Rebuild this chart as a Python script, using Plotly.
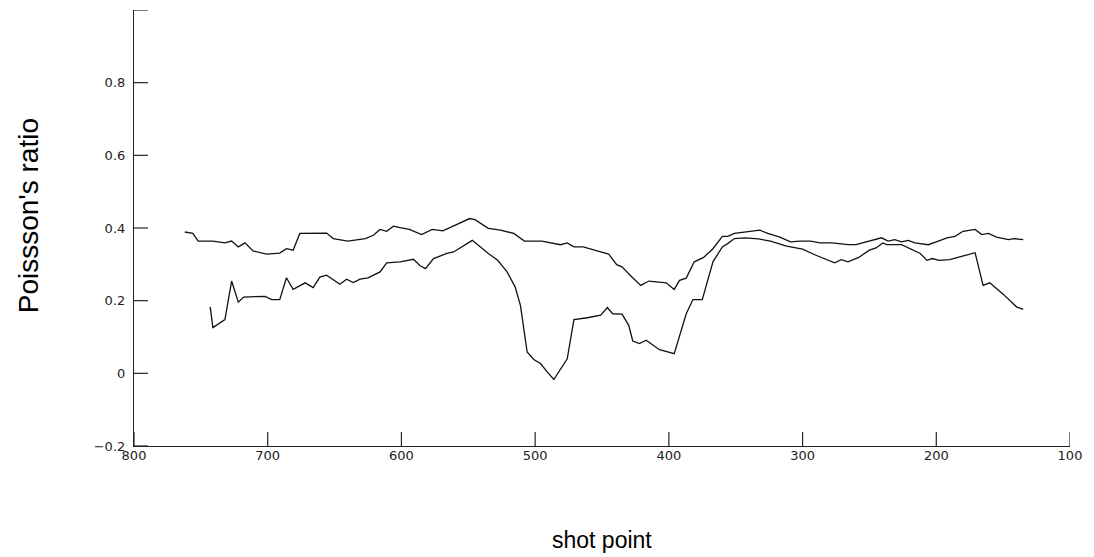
import plotly.graph_objects as go

# Upper curve (shot point, Poisson's ratio)
upper_x = [762, 756, 752, 741, 732, 727, 722, 717, 711, 701, 691, 686, 681, 676,
           656, 651, 640, 627, 621, 616, 611, 606, 601, 594, 585, 577, 569, 558,
           549, 545, 535, 526, 516, 508, 495, 481, 476, 471, 464, 451, 445, 439,
           435, 429, 421, 415, 402, 396, 392, 387, 381, 374, 367, 360, 356, 351,
           341, 332, 326, 317, 309, 302, 294, 287, 278, 266, 260, 252, 241, 236,
           231, 226, 221, 216, 206, 200, 192, 186, 180, 171, 166, 161, 155, 146,
           142, 135]
upper_y = [0.389, 0.385, 0.364, 0.364, 0.359, 0.364, 0.348, 0.359, 0.337, 0.328,
           0.331, 0.343, 0.339, 0.385, 0.386, 0.371, 0.364, 0.371, 0.380, 0.396,
           0.391, 0.405, 0.401, 0.396, 0.382, 0.396, 0.392, 0.410, 0.426, 0.423,
           0.399, 0.394, 0.385, 0.364, 0.364, 0.354, 0.359, 0.348, 0.348, 0.334,
           0.328, 0.299, 0.293, 0.270, 0.242, 0.254, 0.249, 0.231, 0.256, 0.262,
           0.307, 0.319, 0.343, 0.377, 0.377, 0.385, 0.389, 0.394, 0.385, 0.375,
           0.362, 0.364, 0.364, 0.359, 0.359, 0.354, 0.354, 0.362, 0.373, 0.364,
           0.368, 0.362, 0.366, 0.359, 0.354, 0.362, 0.373, 0.377, 0.391, 0.396,
           0.382, 0.385, 0.375, 0.368, 0.371, 0.368]

# Lower curve
lower_x = [743, 741, 732, 727, 722, 718, 702, 697, 691, 686, 681, 672, 666, 661,
           656, 646, 641, 636, 631, 625, 616, 611, 601, 591, 586, 582, 576, 566,
           561, 555, 547, 535, 528, 521, 515, 511, 506, 501, 496, 491, 486, 476,
           471, 461, 451, 446, 442, 435, 430, 427, 422, 417, 407, 396, 387, 382,
           375, 372, 367, 360, 356, 351, 343, 333, 324, 312, 300, 290, 276, 271,
           266, 258, 250, 245, 240, 237, 226, 212, 207, 203, 198, 190, 171, 165,
           160, 150, 140, 135]
lower_y = [0.183, 0.126, 0.148, 0.254, 0.196, 0.210, 0.212, 0.203, 0.203, 0.263,
           0.231, 0.249, 0.236, 0.265, 0.270, 0.245, 0.259, 0.250, 0.259, 0.263,
           0.279, 0.304, 0.307, 0.314, 0.296, 0.288, 0.316, 0.330, 0.334, 0.348,
           0.366, 0.330, 0.311, 0.279, 0.238, 0.187, 0.059, 0.038, 0.027, 0.004,
           -0.017, 0.040, 0.148, 0.153, 0.160, 0.181, 0.164, 0.163, 0.132, 0.089,
           0.082, 0.091, 0.065, 0.054, 0.164, 0.203, 0.203, 0.242, 0.307, 0.348,
           0.357, 0.371, 0.373, 0.370, 0.364, 0.350, 0.342, 0.325, 0.304, 0.313,
           0.307, 0.319, 0.339, 0.345, 0.359, 0.354, 0.354, 0.330, 0.311, 0.316,
           0.311, 0.313, 0.332, 0.242, 0.249, 0.218, 0.183, 0.176]

x_ticks = [800, 700, 600, 500, 400, 300, 200, 100]
y_ticks = [-0.2, 0, 0.2, 0.4, 0.6, 0.8, 1.0]
y_ticktext = ["\u22120.2", "0", "0.2", "0.4", "0.6", "0.8", ""]

X_MIN, X_MAX = 800, 100
Y_MIN, Y_MAX = -0.2, 1.0

line_style = dict(color="#111111", width=1.3)
axis_color = "#222222"

fig = go.Figure()
fig.add_trace(go.Scatter(x=upper_x, y=upper_y, mode="lines", line=line_style,
                         showlegend=False, hoverinfo="skip"))
fig.add_trace(go.Scatter(x=lower_x, y=lower_y, mode="lines", line=line_style,
                         showlegend=False, hoverinfo="skip"))

# inward-pointing tick marks (half of each marker is clipped by the plot area)
fig.add_trace(go.Scatter(
    x=x_ticks, y=[Y_MIN] * len(x_ticks), mode="markers", cliponaxis=True,
    marker=dict(symbol="line-ns", size=20, line=dict(color=axis_color, width=1.2)),
    showlegend=False, hoverinfo="skip"))
fig.add_trace(go.Scatter(
    x=[X_MIN] * len(y_ticks), y=y_ticks, mode="markers", cliponaxis=True,
    marker=dict(symbol="line-ew", size=20, line=dict(color=axis_color, width=1.2)),
    showlegend=False, hoverinfo="skip"))

tick_font = dict(family="DejaVu Sans", size=13, color="#222222")

fig.update_layout(
    width=1094, height=557,
    margin=dict(l=134, r=24, t=10, b=111),
    paper_bgcolor="white", plot_bgcolor="white",
    template="none",
    xaxis=dict(range=[X_MIN, X_MAX], tickmode="array", tickvals=x_ticks,
               ticks="", showline=True, linecolor=axis_color, linewidth=1.2,
               showgrid=False, zeroline=False, tickfont=tick_font,
               ticklabelstandoff=-3),
    yaxis=dict(range=[Y_MIN, Y_MAX], tickmode="array", tickvals=y_ticks,
               ticktext=y_ticktext, ticks="", showline=True,
               linecolor=axis_color, linewidth=1.2, showgrid=False,
               zeroline=False, tickfont=tick_font, ticklabelstandoff=5),
    annotations=[
        dict(text="shot point", xref="paper", yref="paper", x=0.5, y=-0.2156,
             xanchor="center", yanchor="middle", showarrow=False,
             font=dict(family="Liberation Sans", size=23, color="black")),
        dict(text="Poissson's ratio", xref="paper", yref="paper", x=-0.113,
             y=0.5275, xanchor="center", yanchor="middle", textangle=-90,
             showarrow=False,
             font=dict(family="Liberation Sans", size=28, color="black")),
    ],
)

fig.write_html("out.html")
